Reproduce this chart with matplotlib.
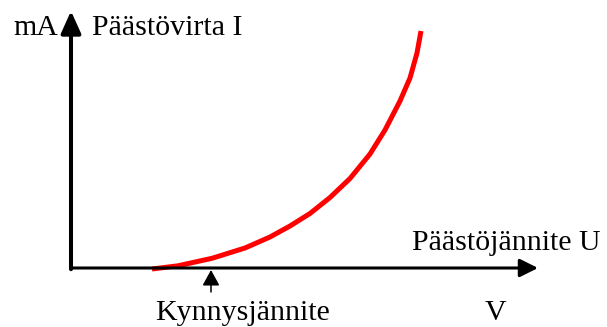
import matplotlib.pyplot as plt
import numpy as np

# diodin päästökäyrä (mielivaltaiset yksiköt, origo akselien kulmassa)
jannite = np.array([81, 107, 141, 174, 199, 219, 239, 259, 279, 299,
                    314, 329, 339, 346, 350])
virta = np.array([-1, 2.2, 9.7, 20, 31, 42, 54.5, 70.5, 89.5, 114,
                  138, 167, 190, 215, 237])

kynnys = 140          # kynnysjännitteen kohta U-akselilla
u_max = 467           # U-akselin nuolen kärki
i_max = 257           # I-akselin nuolen kärki

plt.rcParams['font.family'] = ['Liberation Serif', 'DejaVu Serif']

fig = plt.figure(figsize=(6.07, 3.27), dpi=100)
ax = fig.add_axes([0, 0, 1, 1])
ax.set_xlim(-71, 536)
ax.set_ylim(-59, 268)
ax.axis('off')

# akselit nuolineen
ax.annotate('', xy=(0, i_max), xytext=(0, -1.2),
            arrowprops=dict(arrowstyle='-|>,head_length=1.0,head_width=0.45',
                            mutation_scale=13.5, lw=2.9, color='black',
                            shrinkA=0, shrinkB=0))
ax.annotate('', xy=(u_max, 0), xytext=(0, 0),
            arrowprops=dict(arrowstyle='-|>,head_length=1.0,head_width=0.5',
                            mutation_scale=11, lw=2.2, color='black',
                            shrinkA=0, shrinkB=0))

# käyrä
ax.plot(jannite, virta, color='red', lw=3.6, solid_capstyle='butt',
        solid_joinstyle='round')

# kynnysjännitteen osoitin
ax.annotate('', xy=(kynnys, -2), xytext=(kynnys, -24),
            arrowprops=dict(arrowstyle='-|>,head_length=1.0,head_width=0.55',
                            mutation_scale=9.5, lw=1.1, color='black',
                            shrinkA=0, shrinkB=0))

fs = 21.5
ax.text(-58, 233, 'mA', fontsize=fs, va='baseline', ha='left')
ax.text(21, 233, 'Päästövirta I', fontsize=fs, va='baseline', ha='left')
ax.text(341, 18, 'Päästöjännite U', fontsize=fs, va='baseline', ha='left')
ax.text(84, -52, 'Kynnysjännite', fontsize=fs, va='baseline', ha='left')
ax.text(414, -52, 'V', fontsize=fs, va='baseline', ha='left')

fig.savefig('out.png', dpi=100)
